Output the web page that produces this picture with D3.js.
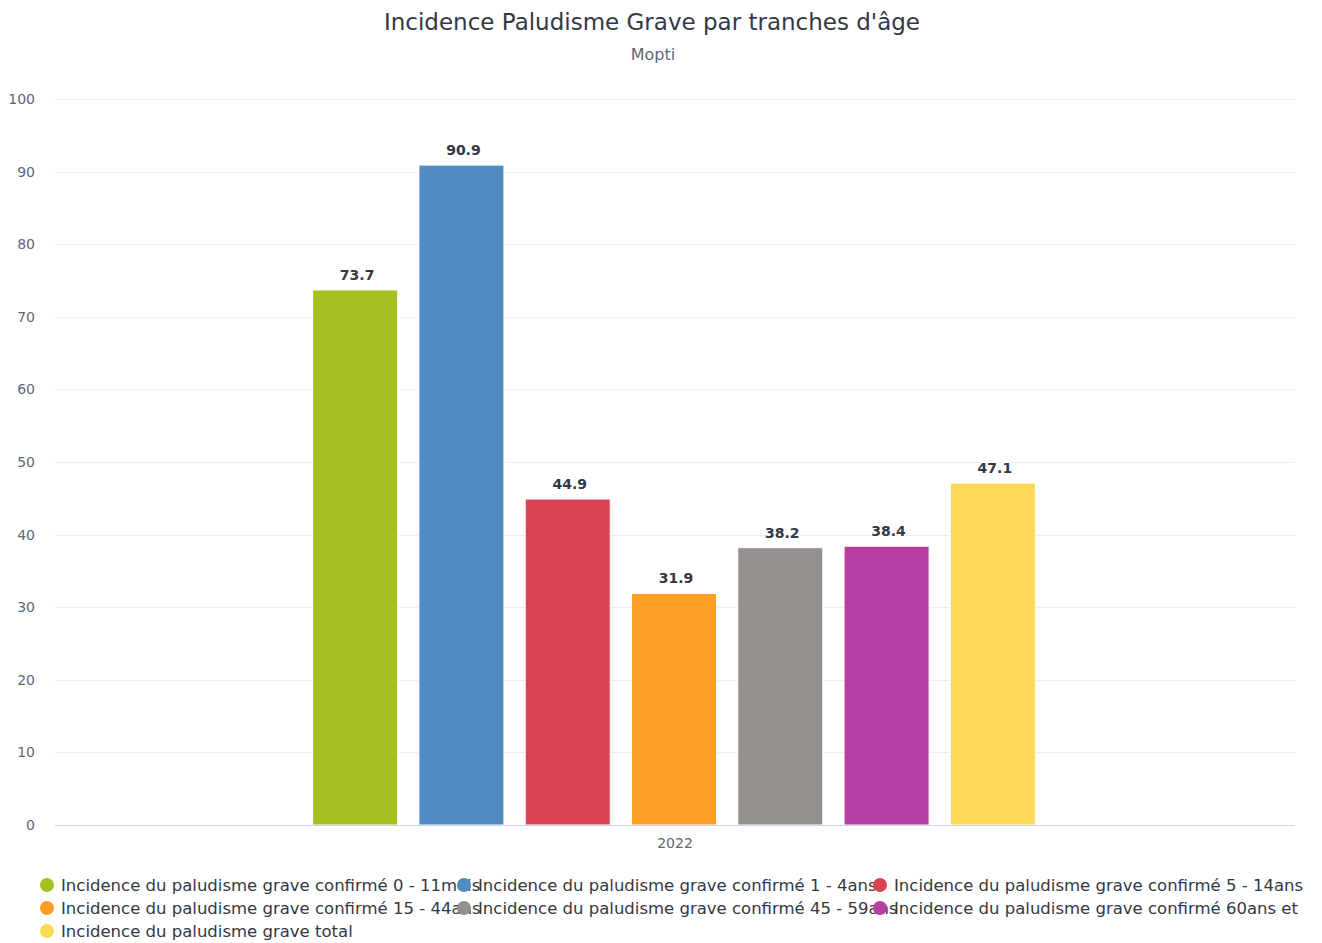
<!DOCTYPE html>
<html>
<head>
<meta charset="utf-8">
<script src="https://cdn.jsdelivr.net/npm/d3@7"></script>
<style>
  body { margin: 0; background: #fff; }
  svg { font-family: "DejaVu Sans", sans-serif; }
</style>
</head>
<body>
<script>
// data
var categories = ["2022"];
var seriesNames = [
  "Incidence du paludisme grave confirmé 0 - 11mois",
  "Incidence du paludisme grave confirmé 1 - 4ans",
  "Incidence du paludisme grave confirmé 5 - 14ans",
  "Incidence du paludisme grave confirmé 15 - 44ans",
  "Incidence du paludisme grave confirmé 45 - 59ans",
  "Incidence du paludisme grave confirmé 60ans et",
  "Incidence du paludisme grave total"
];
var seriesValues = [73.7, 90.9, 44.9, 31.9, 38.2, 38.4, 47.1];
var seriesColors = ["#a8bf24", "#508cc2", "#d84454", "#fe9e25", "#958f8e", "#b83da3", "#fed956"];
var yTicks = [0, 10, 20, 30, 40, 50, 60, 70, 80, 90, 100];

var W = 1322, H = 943;
var margin = {left: 55, right: 27, top: 99, bottom: 118};
var width = W - margin.left - margin.right,
    height = H - margin.top - margin.bottom;

var svg = d3.select("body").append("svg")
  .attr("width", W)
  .attr("height", H);

// title + subtitle
svg.append("text")
  .attr("x", 652).attr("y", 30)
  .attr("text-anchor", "middle")
  .attr("fill", "#333844")
  .style("font-size", "23px")
  .text("Incidence Paludisme Grave par tranches d'âge");
svg.append("text")
  .attr("x", 653).attr("y", 60)
  .attr("text-anchor", "middle")
  .attr("fill", "#5f6775")
  .style("font-size", "16px")
  .text("Mopti");

var g = svg.append("g")
  .attr("transform", "translate(" + margin.left + "," + margin.top + ")");

var y = d3.scaleLinear().domain([0, 100]).range([height, 0]);
var x0 = d3.scaleBand().domain(categories).range([0, width]).paddingInner(0).paddingOuter(0);
// group padding 0.2 on each side of the category
var x1 = d3.scaleBand().domain(seriesNames)
  .range([x0.bandwidth() * 0.2, x0.bandwidth() * 0.8])
  .paddingInner(0.2).paddingOuter(0.1);

// gridlines
g.append("g").selectAll("line")
  .data(yTicks.filter(function(d) { return d > 0; }))
  .enter().append("line")
  .attr("x1", 0).attr("x2", width)
  .attr("y1", function(d) { return Math.round(y(d)) + 0.5; })
  .attr("y2", function(d) { return Math.round(y(d)) + 0.5; })
  .attr("stroke", "#eeeeee")
  .attr("stroke-width", 1);

// y axis labels
var yAxis = d3.axisLeft(y).tickValues(yTicks).tickSize(0).tickPadding(20);
g.append("g").call(yAxis)
  .call(function(s) { s.select(".domain").remove(); })
  .selectAll("text")
  .attr("fill", "#5f6775")
  .style("font-size", "14px")
  .style("font-family", "DejaVu Sans, sans-serif");

// bars
var groups = g.selectAll(".cat")
  .data(categories)
  .enter().append("g")
  .attr("transform", function(d) { return "translate(" + (x0(d) - 1) + ",0)"; });

groups.selectAll("rect")
  .data(seriesNames.map(function(n, i) { return {name: n, value: seriesValues[i], color: seriesColors[i]}; }))
  .enter().append("rect")
  .attr("x", function(d) { return x1(d.name); })
  .attr("width", x1.bandwidth())
  .attr("y", function(d) { return y(d.value); })
  .attr("height", function(d) { return height - y(d.value); })
  .attr("fill", function(d) { return d.color; })
  .attr("stroke", "#fff")
  .attr("stroke-width", 1);

groups.selectAll(".lbl")
  .data(seriesNames.map(function(n, i) { return {name: n, value: seriesValues[i]}; }))
  .enter().append("text")
  .attr("class", "lbl")
  .attr("x", function(d) { return x1(d.name) + x1.bandwidth() / 2 + 2; })
  .attr("y", function(d) { return y(d.value) - 10; })
  .attr("text-anchor", "middle")
  .attr("fill", "#333844")
  .attr("stroke", "#fff")
  .attr("stroke-width", 2)
  .attr("paint-order", "stroke")
  .style("font-size", "14px")
  .style("font-weight", "bold")
  .text(function(d) { return d.value.toFixed(1); });

// x axis
var xAxis = d3.axisBottom(x0).tickSize(0).tickPadding(13);
var xg = g.append("g").attr("transform", "translate(0," + height + ")").call(xAxis);
xg.select(".domain").attr("stroke", "#ccd6eb").attr("d", "M0,0.5H" + width);
xg.selectAll("text")
  .attr("fill", "#5f6775")
  .style("font-size", "14px")
  .style("font-family", "DejaVu Sans, sans-serif");

// legend, three columns, items overflow like the original
var legendCols = [47, 464, 880];
var legendRows = [885, 908, 931];
var legend = svg.append("g");
seriesNames.forEach(function(n, i) {
  var cx = legendCols[i % 3], cy = legendRows[Math.floor(i / 3)];
  var item = legend.append("g");
  item.append("text")
    .attr("x", cx + 14).attr("y", cy + 6)
    .attr("fill", "#333844")
    .style("font-size", "16.5px")
    .text(n);
  item.append("circle")
    .attr("cx", cx).attr("cy", cy)
    .attr("r", 7)
    .attr("fill", seriesColors[i]);
});
</script>
</body>
</html>
